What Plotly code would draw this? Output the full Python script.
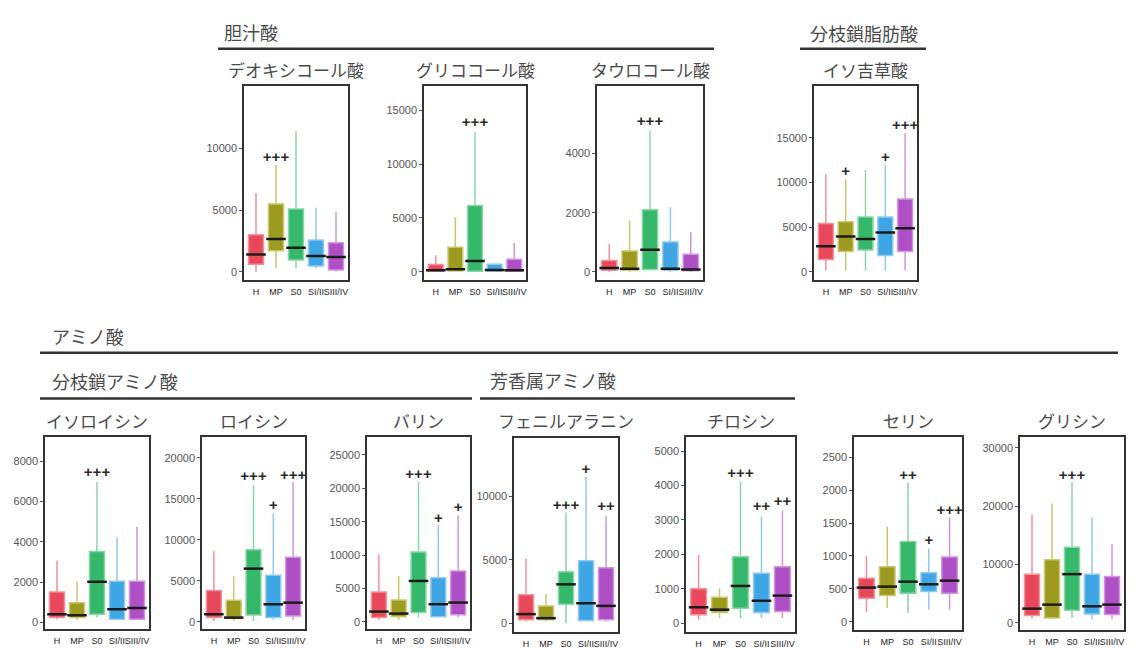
import plotly.graph_objects as go

W, H = 1137, 649

groups = ["H", "MP", "S0", "SI/II", "SIII/IV"]

panel_titles = ["デオキシコール酸", "グリココール酸", "タウロコール酸", "イソ吉草酸",
                "イソロイシン", "ロイシン", "バリン", "フェニルアラニン", "チロシン",
                "セリン", "グリシン"]

whisker_low = [
    [0, 270, 270, 270, 0],
    [0, 0, 0, 0, 0],
    [0, 0, 55, 0, 0],
    [150, 150, 150, 150, 150],
    [160, 130, 250, 130, 130],
    [120, 120, 120, 240, 240],
    [300, 300, 650, 650, 650],
    [130, 130, 0, 130, 130],
    [100, 150, 150, 150, 150],
    [145, 210, 135, 185, 185],
    [680, 680, 850, 570, 570],
]
q1 = [
    [600, 1700, 950, 460, 135],
    [60, 90, 60, 60, 60],
    [55, 55, 80, 55, 45],
    [1400, 2280, 2460, 1840, 2280],
    [250, 250, 410, 160, 160],
    [520, 400, 850, 520, 730],
    [650, 750, 1390, 750, 1045],
    [260, 260, 1490, 210, 260],
    [240, 310, 435, 310, 340],
    [360, 400, 435, 460, 435],
    [1250, 850, 2160, 1530, 1420],
]
median = [
    [1400, 2650, 1950, 1270, 1200],
    [150, 250, 1000, 180, 150],
    [135, 110, 750, 110, 80],
    [2870, 3970, 3680, 4410, 4890],
    [410, 360, 2020, 660, 720],
    [930, 520, 6490, 2140, 2340],
    [1540, 1240, 6120, 2640, 2890],
    [710, 390, 3060, 1570, 1360],
    [460, 390, 1080, 650, 800],
    [520, 535, 610, 570, 625],
    [2440, 3125, 8350, 2840, 3125],
]
q3 = [
    [3000, 5500, 5100, 2570, 2350],
    [680, 2280, 6150, 700, 1170],
    [390, 710, 2100, 1010, 595],
    [5400, 5620, 6140, 6140, 8160],
    [1520, 980, 3520, 2050, 2050],
    [3830, 2620, 8790, 5690, 7860],
    [4480, 3280, 10450, 6620, 7610],
    [2230, 1360, 4060, 4920, 4370],
    [1000, 750, 1930, 1450, 1640],
    [660, 835, 1220, 745, 985],
    [8350, 10800, 12950, 8350, 7950],
]
whisker_high = [
    [6400, 8650, 11400, 5200, 4860],
    [1540, 5080, 12980, 770, 2680],
    [955, 1740, 4775, 2190, 1350],
    [10920, 10370, 11400, 12020, 15510],
    [3070, 2050, 6970, 4210, 4750],
    [8590, 5560, 16650, 13230, 17060],
    [10100, 6870, 20950, 14580, 15920],
    [5100, 2300, 8720, 11520, 8430],
    [1980, 1015, 4110, 3090, 3270],
    [995, 1445, 2110, 1110, 1585],
    [18640, 20450, 24150, 18070, 13470],
]
sig_labels = [
    ["", "+++", "", "", ""],
    ["", "", "+++", "", ""],
    ["", "", "+++", "", ""],
    ["", "+", "", "+", "+++"],
    ["", "", "+++", "", ""],
    ["", "", "+++", "+", "+++"],
    ["", "", "+++", "+", "+"],
    ["", "", "+++", "+", "++"],
    ["", "", "+++", "++", "++"],
    ["", "", "++", "+", "+++"],
    ["", "", "+++", "", ""],
]
sig_y = [
    [None, 9200, None, None, None],
    [None, None, 13750, None, None],
    [None, None, 5056, None, None],
    [None, 11100, None, 12760, 16250],
    [None, None, 7380, None, None],
    [None, None, 17580, 14110, 17740],
    [None, None, 21890, 15420, 17060],
    [None, None, 9240, 12090, 9160],
    [None, None, 4330, 3370, 3510],
    [None, None, 2210, 1220, 1685],
    [None, None, 25170, None, None],
]
y_ticks = [
    [0, 5000, 10000],
    [0, 5000, 10000, 15000],
    [0, 2000, 4000],
    [0, 5000, 10000, 15000],
    [0, 2000, 4000, 6000, 8000],
    [0, 5000, 10000, 15000, 20000],
    [0, 5000, 10000, 15000, 20000, 25000],
    [0, 5000, 10000],
    [0, 1000, 2000, 3000, 4000, 5000],
    [0, 500, 1000, 1500, 2000, 2500],
    [0, 10000, 20000, 30000],
]
y_ranges = [
    [-700, 15050], [-780, 17200], [-280, 6270], [-933, 20730],
    [-325, 9183], [-880, 22490], [-1085, 27630], [-706, 14576],
    [-261, 5403], [-125, 2801], [-1244, 31818],
]

# layout (pixel boxes of each panel: left, top, right, bottom)
panel_px = [
    (244, 87, 348, 282), (424, 87, 526, 282), (597, 87, 703, 282), (814, 87, 917, 282),
    (45, 440, 149, 633), (202, 440, 305, 633), (367, 440, 470, 633), (514, 441, 618, 636),
    (686, 440, 795, 636), (854, 440, 962, 634), (1020, 440, 1124, 634),
]

fill_colors = ["#E8485A", "#9C9A1F", "#35B86A", "#3FA6E6", "#AE4FC6"]
line_colors = ["#F0909A", "#C9C86E", "#88D6A8", "#90C9EE", "#CF96DD"]

def px(x):
    return x / W

def py(y):
    return 1 - y / H

fig = go.Figure()
annotations = []
shapes = []

for i, title in enumerate(panel_titles):
    n = i + 1
    xa = "x" if n == 1 else f"x{n}"
    ya = "y" if n == 1 else f"y{n}"
    for g in range(5):
        fig.add_trace(go.Box(
            x=[groups[g]], q1=[q1[i][g]], median=[median[i][g]], q3=[q3[i][g]],
            lowerfence=[whisker_low[i][g]], upperfence=[whisker_high[i][g]],
            fillcolor=fill_colors[g], line=dict(color=line_colors[g], width=1.5),
            whiskerwidth=0, width=0.75, boxpoints=False, hoverinfo="skip",
            xaxis=xa, yaxis=ya, showlegend=False,
        ))
    fig.add_trace(go.Scatter(
        x=groups, y=median[i], mode="markers", xaxis=xa, yaxis=ya, showlegend=False,
        marker=dict(symbol="line-ew", size=14, color="#1a1a1a",
                    line=dict(color="#1a1a1a", width=2.5)),
        hoverinfo="skip",
    ))
    fig.add_trace(go.Scatter(
        x=groups, y=sig_y[i], text=sig_labels[i], mode="text", xaxis=xa, yaxis=ya,
        showlegend=False,
        textfont=dict(size=15, color="#2a2a2a", family="Liberation Sans, Arial", weight="bold"),
        textposition="middle center", hoverinfo="skip",
    ))
    l, t, r, b = panel_px[i]
    axkey = "xaxis" if n == 1 else f"xaxis{n}"
    aykey = "yaxis" if n == 1 else f"yaxis{n}"
    fig.layout[axkey] = dict(
        domain=[px(l), px(r)], anchor=ya, type="category", categoryorder="array",
        categoryarray=groups, range=[-0.6, 4.6], showline=True, mirror=True,
        linecolor="#333333", linewidth=1.5, showgrid=False, zeroline=False,
        ticks="", tickangle=0, ticklabelstandoff=2,
        tickfont=dict(family="Liberation Sans, Arial", size=9, color="#222222"),
        fixedrange=True,
    )
    fig.layout[aykey] = dict(
        domain=[py(b), py(t)], anchor=xa, range=y_ranges[i],
        tickmode="array", tickvals=y_ticks[i], ticktext=[str(v) for v in y_ticks[i]],
        showline=True, mirror=True, linecolor="#333333", linewidth=1.5,
        showgrid=False, zeroline=False, ticks="outside", ticklen=3, tickcolor="#555555",
        tickfont=dict(family="Liberation Sans, Arial", size=11, color="#555555"),
        fixedrange=True,
    )
    annotations.append(dict(
        text=title, x=px((l + r) / 2), y=py(70 if i < 4 else 423), xref="paper", yref="paper",
        xanchor="center", yanchor="middle", showarrow=False,
        font=dict(family="Noto Sans CJK JP", size=17, color="#4a4a4a"),
    ))

# group headers
headers = [
    ("胆汁酸", 222, 32, "left", (218, 714, 49)),
    ("分枝鎖脂肪酸", 864, 33, "center", (800, 926, 49)),
    ("アミノ酸", 50, 338, "left", (40, 1118, 355)),
    ("分枝鎖アミノ酸", 50, 383, "left", (40, 472, 401)),
    ("芳香属アミノ酸", 488, 382, "left", (480, 795, 401)),
]
for text, hx, hy, anchor, (x0, x1, ly) in headers:
    annotations.append(dict(
        text=text, x=px(hx), y=py(hy), xref="paper", yref="paper", xanchor=anchor,
        yanchor="middle", showarrow=False,
        font=dict(family="Noto Sans CJK JP", size=18, color="#4a4a4a"),
    ))
    shapes.append(dict(type="line", xref="paper", yref="paper", x0=px(x0), x1=px(x1),
                       y0=py(ly), y1=py(ly), line=dict(color="#333333", width=2.5)))

fig.update_layout(
    width=W, height=H, margin=dict(l=0, r=0, t=0, b=0),
    paper_bgcolor="white", plot_bgcolor="white",
    annotations=annotations, shapes=shapes, showlegend=False, boxmode="overlay",
)

fig.write_html(
    "out.html",
    config={"displayModeBar": False},
    post_script="document.body.style.margin='0';document.body.style.overflow='hidden';",
)
